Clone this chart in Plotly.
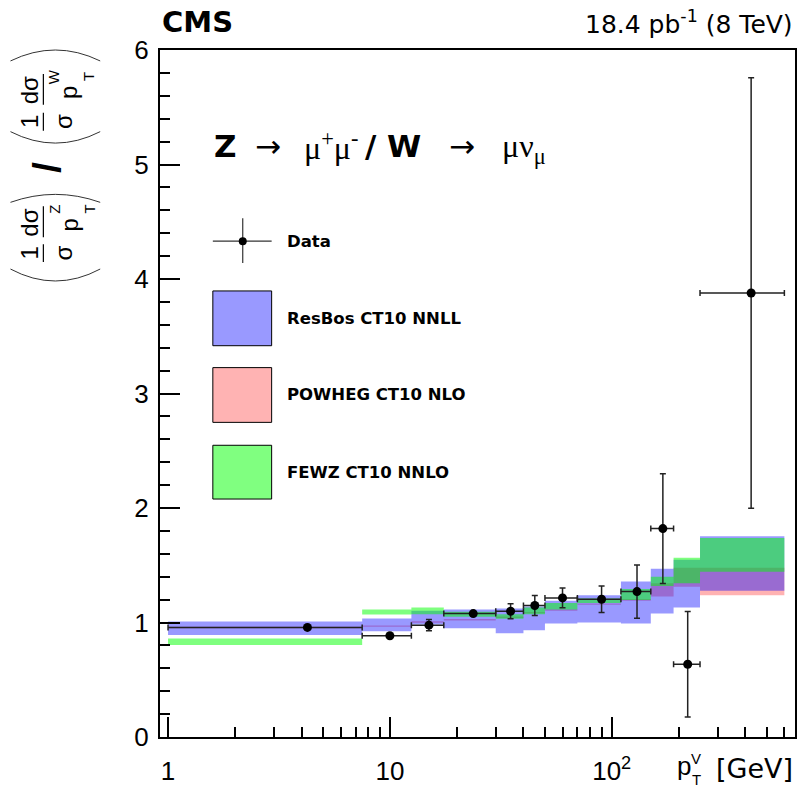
import numpy as np
import plotly.graph_objects as go

# ---------------- data ----------------
bin_edges = [1, 7.5, 12.5, 17.5, 30, 40, 50, 70, 110, 150, 190, 250, 600]

data_x = [4.25, 10, 15, 23.75, 35, 45, 60, 90, 130, 170, 220, 425]
data_xerr = [3.25, 2.5, 2.5, 6.25, 5, 5, 10, 20, 20, 20, 30, 175]
data_y = [0.957, 0.884, 0.977, 1.078, 1.098, 1.148, 1.215, 1.203, 1.27, 1.82, 0.635, 3.878]
data_yerr = [0.01, 0.01, 0.05, 0.015, 0.065, 0.087, 0.087, 0.115, 0.233, 0.48, 0.46, 1.88]

resbos_lo = [0.89, 0.924, 0.983, 0.950, 0.907, 0.933, 0.991, 1.000, 0.991, 1.078, 1.130, 1.278]
resbos_hi = [1.009, 1.035, 1.102, 1.113, 1.122, 1.139, 1.189, 1.237, 1.357, 1.470, 1.548, 1.754]

powheg_lo = [0.950, 0.962, 0.998, 1.018, 1.040, 1.080, 1.103, 1.155, 1.190, 1.226, 1.313, 1.237]
powheg_hi = [0.962, 0.974, 1.010, 1.030, 1.052, 1.092, 1.115, 1.167, 1.205, 1.342, 1.478, 1.478]

fewz_lo = [0.803, 1.070, 1.072, 1.050, 1.032, 1.072, 1.113, 1.170, 1.197, 1.319, 1.342, 1.443]
fewz_hi = [0.861, 1.113, 1.130, 1.093, 1.072, 1.130, 1.171, 1.210, 1.293, 1.400, 1.565, 1.737]

x_tickvals = [1, 10, 100]
x_ticktext = ["1", "10", "10<sup>2</sup>"]
y_tickvals = [0, 1, 2, 3, 4, 5, 6]

legend_labels = ["Data", "ResBos CT10 NNLL", "POWHEG CT10 NLO", "FEWZ CT10 NNLO"]

# ---------------- style ----------------
C_BLUE = "rgba(0,0,255,0.4)"
C_PINK = "rgba(255,0,0,0.3)"
C_GREEN = "rgba(0,255,0,0.5)"
FONT = "Liberation Sans, Arial, sans-serif"
FONT_W = "DejaVu Sans, sans-serif"
SERIF = "Liberation Serif, serif"

W, H = 799, 788
PL, PR, PT, PB = 160, 797, 50, 740


def xp(px):
    return (px - PL) / (PR - PL)


def yp(py):
    return (PB - py) / (PB - PT)


def band(lo, hi, color, name):
    xs, ys = [], []
    for i in range(len(lo)):
        a, b = bin_edges[i], bin_edges[i + 1]
        xs += [a, b, b, a, a, None]
        ys += [lo[i], lo[i], hi[i], hi[i], lo[i], None]
    return go.Scatter(x=xs, y=ys, mode="lines", fill="toself", fillcolor=color,
                      line=dict(width=0, color="rgba(0,0,0,0)"), name=name,
                      hoverinfo="skip")


fig = go.Figure()
fig.add_trace(band(powheg_lo, powheg_hi, C_PINK, legend_labels[2]))
fig.add_trace(band(resbos_lo, resbos_hi, C_BLUE, legend_labels[1]))
fig.add_trace(band(fewz_lo, fewz_hi, C_GREEN, legend_labels[3]))
fig.add_trace(go.Scatter(
    x=data_x, y=data_y, mode="markers", name=legend_labels[0],
    marker=dict(color="black", size=9),
    error_x=dict(type="data", array=data_xerr, color="#222", thickness=1.5, width=3),
    error_y=dict(type="data", array=data_yerr, color="#222", thickness=1.5, width=3),
))

minor_x = [v * d for d in (1, 10, 100) for v in range(2, 10) if v * d <= 600]

fig.update_layout(
    width=W, height=H, showlegend=False,
    margin=dict(l=PL, r=W - PR, t=PT, b=H - PB),
    plot_bgcolor="white", paper_bgcolor="white",
    font=dict(family=FONT, color="black"),
    xaxis=dict(type="log", range=[np.log10(0.92), np.log10(670)],
               tickvals=x_tickvals, ticktext=x_ticktext,
               ticks="inside", ticklen=20, tickwidth=1.5, tickcolor="black",
               showline=True, linewidth=2, linecolor="black", mirror=True,
               showgrid=False, zeroline=False,
               tickfont=dict(size=26, family=FONT), ticklabelstandoff=10,
               minor=dict(tickvals=minor_x, ticks="inside", ticklen=10,
                          tickwidth=1.5, tickcolor="black", showgrid=False)),
    yaxis=dict(range=[0, 6], tickvals=y_tickvals,
               ticks="inside", ticklen=20, tickwidth=1.5, tickcolor="black",
               showline=True, linewidth=2, linecolor="black", mirror=True,
               showgrid=False, zeroline=False,
               tickfont=dict(size=26, family=FONT), ticklabelstandoff=4,
               minor=dict(dtick=0.2, ticks="inside", ticklen=10,
                          tickwidth=1.5, tickcolor="black", showgrid=False)),
)

ann = []
shapes = []


def text(t, x, y, size, xanchor="center", yanchor="middle", angle=0, family=FONT):
    ann.append(dict(text=t, x=xp(x), y=yp(y), xref="paper", yref="paper",
                    xanchor=xanchor, yanchor=yanchor, showarrow=False,
                    textangle=angle, font=dict(size=size, family=family, color="black")))


def line(x0, y0, x1, y1, w=1.5, color="black"):
    shapes.append(dict(type="line", xref="paper", yref="paper",
                       x0=xp(x0), y0=yp(y0), x1=xp(x1), y1=yp(y1),
                       line=dict(width=w, color=color)))


def arc(x0, y0, xc, yc, x1, y1):
    shapes.append(dict(type="path", xref="paper", yref="paper",
                       path=f"M {xp(x0)},{yp(y0)} Q {xp(xc)},{yp(yc)} {xp(x1)},{yp(y1)}",
                       line=dict(width=1, color="#333")))


# header
text("<b>CMS</b>", 160, 22, 29, xanchor="left", family=FONT_W)
text("18.4 pb<sup>-1</sup> (8 TeV)", 797, 22, 25, xanchor="right", family=FONT_W)

# process label, placed piece by piece
PY = 146
text("<b>Z</b>", 212, PY, 31, xanchor="left", family=FONT_W)
text("→", 268, PY, 31, family=FONT_W)
text("μ<sup>+</sup>μ<sup>-</sup>", 302, PY, 32, xanchor="left", family=SERIF)
text("<b>/ W</b>", 364, PY, 31, xanchor="left", family=FONT_W)
text("→", 463, PY, 31, family=FONT_W)
text("μν<sub>μ</sub>", 501, PY + 3, 32, xanchor="left", family=SERIF)

# legend
line(213, 242, 272, 242, 1.2, "#333")
line(243, 219, 243, 264, 1.2, "#333")
shapes.append(dict(type="circle", xref="paper", yref="paper",
                   x0=xp(239), x1=xp(247), y0=yp(238), y1=yp(246),
                   fillcolor="black", line=dict(width=0)))
text("<b>" + legend_labels[0] + "</b>", 285, 242, 16.5, xanchor="left", family=FONT_W)
for (y0, y1), fc, lab in zip([(292, 347), (369, 424), (447, 501)],
                             ["#9999FF", "#FFB3B3", "#80FF80"], legend_labels[1:]):
    shapes.append(dict(type="rect", xref="paper", yref="paper",
                       x0=xp(213), x1=xp(272), y0=yp(y1), y1=yp(y0),
                       fillcolor=fc, line=dict(width=1, color="black")))
    text("<b>" + lab + "</b>", 285, (y0 + y1) / 2, 16.5, xanchor="left", family=FONT_W)

# x-axis title
text("p", 686, 769, 26, family=FONT)
text("V", 698, 762, 15, family=FONT)
text("T", 698, 783, 15, family=FONT)
text("[GeV]", 797, 772, 27, xanchor="right", family=FONT_W)

# y-axis title (rotated composite)
for (y1c, y2c, sup) in [(254, 223, "Z"), (122, 90, "W")]:
    text("1", 29, y1c, 24, angle=-90)
    text("σ", 63, y1c, 24, angle=-90)
    line(43, y1c - 9, 43, y1c + 9, 1.2)
    text("dσ", 29, y2c, 24, angle=-90)
    text("p", 69, y2c + 3, 24, angle=-90)
    text(sup, 54, y2c - 13, 15, angle=-90)
    text("T", 89, y2c - 13, 15, angle=-90)
    line(43, y2c - 16, 43, y2c + 15, 1.2)
# parentheses
arc(10, 270, 55, 294, 100, 270)
arc(10, 203, 55, 187, 100, 203)
arc(10, 132, 55, 155, 100, 132)
arc(10, 61, 55, 39, 100, 61)
text("<b>/</b>", 47, 168, 38, angle=-90, family=FONT)

fig.update_layout(annotations=ann, shapes=shapes)
fig.write_html("out.html", config={"displayModeBar": False},
               post_script="document.body.style.margin='0';")
